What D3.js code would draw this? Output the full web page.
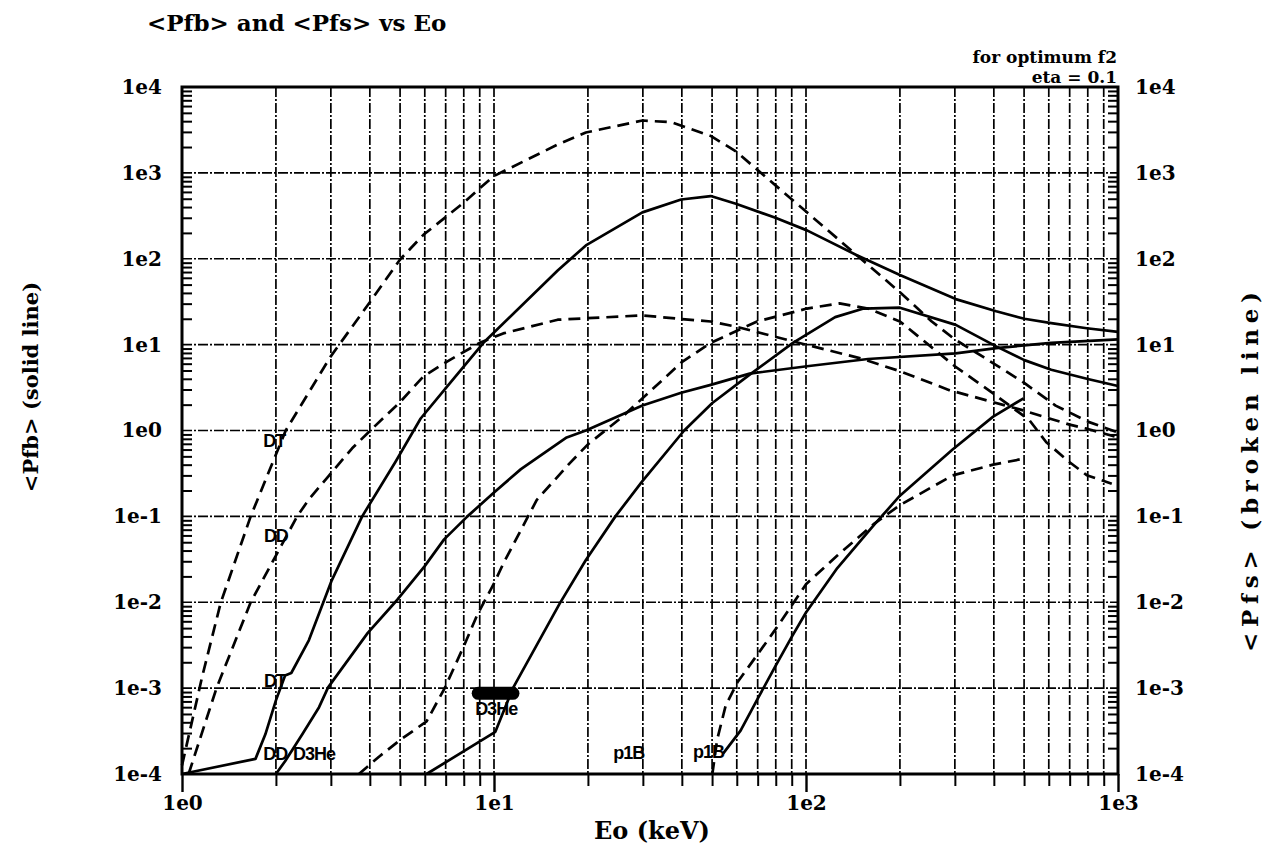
<!DOCTYPE html>
<html><head><meta charset="utf-8">
<script src="https://cdn.jsdelivr.net/npm/d3@7/dist/d3.min.js"></script>
<style>
body{margin:0;background:#fff;}
svg{display:block;}
</style></head><body>
<svg id="chart" width="1276" height="858"></svg>
<script>
// ---------------- data (Eo in keV, value) ----------------
const xTickValues = [1, 10, 100, 1000];
const xTickLabels = ["1e0", "1e1", "1e2", "1e3"];
const yTickValues = [1e-4, 1e-3, 1e-2, 1e-1, 1, 10, 100, 1000, 10000];
const yTickLabels = ["1e-4", "1e-3", "1e-2", "1e-1", "1e0", "1e1", "1e2", "1e3", "1e4"];

// <Pfb> solid lines
const dtSolid = [[1,1e-4],[1.72,1.5e-4],[1.85,2.9e-4],[2.0,7.2e-4],[2.14,1.4e-3],[2.24,1.5e-3],[2.55,3.6e-3],[3.02,0.018],[3.78,0.1],[4.83,0.43],[5.82,1.38],[7.05,3.2],[9.25,10.5],[16.0,73],[19.7,143],[29.9,347],[39.8,490],[49.5,537],[59.6,437],[79.4,302],[100.7,214],[145.5,110],[200,64.6],[302,33.9],[407,24.5],[501,20],[611,17.8],[794,15.5],[1000,14.1]];
const ddSolid = [[2.0,1e-4],[2.14,1.41e-4],[2.43,2.9e-4],[2.75,6.0e-4],[2.94,1.02e-3],[3.94,4.4e-3],[4.9,0.0107],[5.98,0.026],[6.92,0.054],[8.22,0.1],[10,0.19],[12.2,0.355],[17.1,0.83],[19.7,1.0],[29.9,1.95],[39.8,2.75],[49.5,3.4],[66,4.6],[100.7,5.6],[158,6.8],[302,7.9],[407,9.1],[611,10.5],[1000,11.5]];
const d3heSolid = [[6.08,1e-4],[10.1,3.1e-4],[11.5,1e-3],[16.2,9.5e-3],[19.7,0.031],[24.5,0.1],[29.9,0.257],[40.7,1.0],[50.1,2.09],[66,4.47],[90.8,10.5],[124,20.9],[153,26.3],[200,26.9],[302,17],[407,9.55],[501,6.6],[611,5.1],[800,3.98],[1000,3.3]];
const p11bSolid = [[54.3,1.74e-4],[61.7,3.2e-4],[70.1,7.6e-4],[79.4,1.74e-3],[90.2,4.0e-3],[100,7.6e-3],[126,0.025],[166,0.081],[200,0.174],[295,0.60],[398,1.45],[498,2.37]];
const d3heBlob = [[8.9,8.7e-4],[11.5,8.7e-4]];

// <Pfs> broken lines
const dtBroken = [[1,1.26e-4],[1.16,1.35e-3],[1.33,9.8e-3],[1.66,0.1],[2.15,1.0],[2.99,7.2],[4.01,31.6],[5.0,98],[5.94,190],[7.98,447],[9.95,912],[16.0,2140],[19.7,2950],[29.9,4070],[37.1,3890],[49.5,2690],[59.6,1780],[70.6,1050],[100.7,347],[145.5,110],[200,40.7],[253,18.6],[300,11.5],[372,7.1],[498,3.63],[631,1.95],[804,1.26],[1000,0.95]];
const ddBroken = [[1.05,1e-4],[1.29,1e-3],[1.66,0.01],[2.0,0.035],[2.34,0.1],[2.55,0.158],[2.95,0.295],[3.51,0.62],[4.07,1.05],[5.0,2.14],[5.94,4.27],[7.05,6.3],[9.0,10.5],[10.7,13.5],[16,19.5],[29.9,21.9],[39.1,20],[49.5,18.6],[59.6,16.2],[88.3,11.2],[150,6.9],[200,4.9],[288,2.95],[398,2.14],[501,1.7],[603,1.38],[700,1.17],[794,1.05],[1000,0.83]];
const d3heBroken = [[3.69,1e-4],[4.27,1.58e-4],[5.01,2.5e-4],[6.08,4.1e-4],[6.95,1e-3],[8.04,3.2e-3],[8.85,7.2e-3],[10,0.0166],[10.7,0.028],[13.7,0.155],[17.5,0.417],[20,0.69],[25.6,1.41],[40.1,6.3],[49.5,10.5],[69.7,18.6],[100.7,26.3],[128,30.2],[158,26.3],[200,18.6],[300,5.6],[398,2.7],[520,1.32],[589,0.73],[700,0.427],[794,0.302],[955,0.24]];
const p11bBroken = [[50.1,1e-4],[51.9,2.5e-4],[55.3,6.3e-4],[60.3,1.17e-3],[69.2,2.34e-3],[79.4,4.7e-3],[90.2,9.3e-3],[100,0.0162],[126,0.035],[166,0.083],[200,0.135],[295,0.30],[398,0.40],[498,0.47]];

// curve labels (anchored in data coordinates)
const curveLabelText = ["DT", "DD", "DT", "DD", "D3He", "D3He", "p1B", "p1B"];
const curveLabelE    = [1.82, 1.83, 1.83, 1.82, 2.27, 8.7, 24.1, 43.4];
const curveLabelV    = [0.64, 0.05, 1.03e-3, 1.47e-4, 1.47e-4, 4.9e-4, 1.5e-4, 1.55e-4];

// ---------------- drawing ----------------
const svg = d3.select("#chart");
const L = 182, R = 1118, T = 87, B = 774;
const x = d3.scaleLog().domain([1, 1000]).range([L, R]);
const y = d3.scaleLog().domain([1e-4, 1e4]).range([B, T]);

const serif = "'DejaVu Serif', 'Liberation Serif', serif";
const sans = "'Liberation Sans', 'DejaVu Sans', sans-serif";

// minor values
const xMinor = [];
[1, 10, 100].forEach(d => { for (let k = 2; k <= 9; k++) xMinor.push(d * k); });
const yMinor = [];
[1e-4, 1e-3, 1e-2, 1e-1, 1, 10, 100, 1000].forEach(d => { for (let k = 2; k <= 9; k++) yMinor.push(d * k); });

// grid
const grid = svg.append("g").attr("stroke", "#000").attr("stroke-width", 1.7)
  .attr("stroke-dasharray", "10,2,2,2").attr("fill", "none");
grid.selectAll("line.v").data(xMinor.concat([10, 100])).enter().append("line")
  .attr("x1", d => x(d)).attr("x2", d => x(d)).attr("y1", T).attr("y2", B);
grid.selectAll("line.h").data(yTickValues.slice(1, -1)).enter().append("line")
  .attr("x1", L).attr("x2", R).attr("y1", d => y(d)).attr("y2", d => y(d));

// curves
const line = d3.line().x(d => x(d[0])).y(d => y(d[1]));
const curves = svg.append("g").attr("fill", "none").attr("stroke", "#000").attr("stroke-linejoin", "round");
[dtSolid, ddSolid, d3heSolid, p11bSolid].forEach(s => {
  curves.append("path").attr("d", line(s)).attr("stroke-width", 2.7);
});
[dtBroken, ddBroken, d3heBroken, p11bBroken].forEach(s => {
  curves.append("path").attr("d", line(s)).attr("stroke-width", 2.7).attr("stroke-dasharray", "12,7");
});
curves.append("path").attr("d", line(d3heBlob)).attr("stroke-width", 13).attr("stroke-linecap", "round");

// axes (ticks)
const axB = svg.append("g").attr("transform", `translate(0,${B})`)
  .call(d3.axisBottom(x).tickValues(xMinor).tickSize(12).tickFormat(""));
const axBmaj = svg.append("g").attr("transform", `translate(0,${B})`)
  .call(d3.axisBottom(x).tickValues(xTickValues).tickSize(18).tickPadding(4)
    .tickFormat((d, i) => xTickLabels[i]));
const axL = svg.append("g").attr("transform", `translate(${L},0)`)
  .call(d3.axisRight(y).tickValues(yMinor).tickSize(10).tickFormat(""));
const axLlab = svg.append("g").attr("transform", `translate(${L},0)`)
  .call(d3.axisLeft(y).tickValues(yTickValues).tickSize(0).tickPadding(20)
    .tickFormat((d, i) => yTickLabels[i]));
const axR = svg.append("g").attr("transform", `translate(${R},0)`)
  .call(d3.axisLeft(y).tickValues(yMinor).tickSize(10).tickFormat(""));
const axRlab = svg.append("g").attr("transform", `translate(${R},0)`)
  .call(d3.axisRight(y).tickValues(yTickValues).tickSize(0).tickPadding(17)
    .tickFormat((d, i) => yTickLabels[i]));
[axB, axBmaj, axL, axLlab, axR, axRlab].forEach(g => {
  g.selectAll(".domain").remove();
  g.selectAll(".tick line").attr("stroke", "#000").attr("stroke-width", 2);
  g.selectAll(".tick text").attr("fill", "#000").attr("font-family", serif)
    .attr("font-weight", "bold").attr("font-size", 20);
});
axBmaj.selectAll(".tick line").attr("stroke-width", 2.4);

// frame
svg.append("rect").attr("x", L).attr("y", T).attr("width", R - L).attr("height", B - T)
  .attr("fill", "none").attr("stroke", "#000").attr("stroke-width", 3);

// curve labels
svg.append("g").selectAll("text").data(curveLabelText).enter().append("text")
  .attr("x", (d, i) => x(curveLabelE[i])).attr("y", (d, i) => y(curveLabelV[i]))
  .attr("font-family", sans).attr("font-size", 18).attr("font-weight", "bold")
  .attr("letter-spacing", -1).text(d => d);

// titles
svg.append("text").attr("x", 147).attr("y", 31).attr("font-family", serif)
  .attr("font-weight", "bold").attr("font-size", 23).text("<Pfb> and <Pfs> vs Eo");
svg.append("text").attr("x", 1117).attr("y", 63).attr("text-anchor", "end")
  .attr("font-family", serif).attr("font-weight", "bold").attr("font-size", 17).text("for optimum f2");
svg.append("text").attr("x", 1117).attr("y", 83).attr("text-anchor", "end")
  .attr("font-family", serif).attr("font-weight", "bold").attr("font-size", 17).text("eta = 0.1");
svg.append("text").attr("x", 652).attr("y", 839).attr("text-anchor", "middle")
  .attr("font-family", serif).attr("font-weight", "bold").attr("font-size", 24).text("Eo (keV)");
svg.append("text").attr("transform", "translate(38,387) rotate(-90)").attr("text-anchor", "middle")
  .attr("font-family", serif).attr("font-weight", "bold").attr("font-size", 21).text("<Pfb> (solid line)");
svg.append("text").attr("transform", "translate(1258,472) rotate(-90)").attr("text-anchor", "middle")
  .attr("font-family", serif).attr("font-weight", "bold").attr("font-size", 23)
  .attr("textLength", 360).attr("lengthAdjust", "spacing").text("<Pfs> (broken line)");
</script>
</body></html>
